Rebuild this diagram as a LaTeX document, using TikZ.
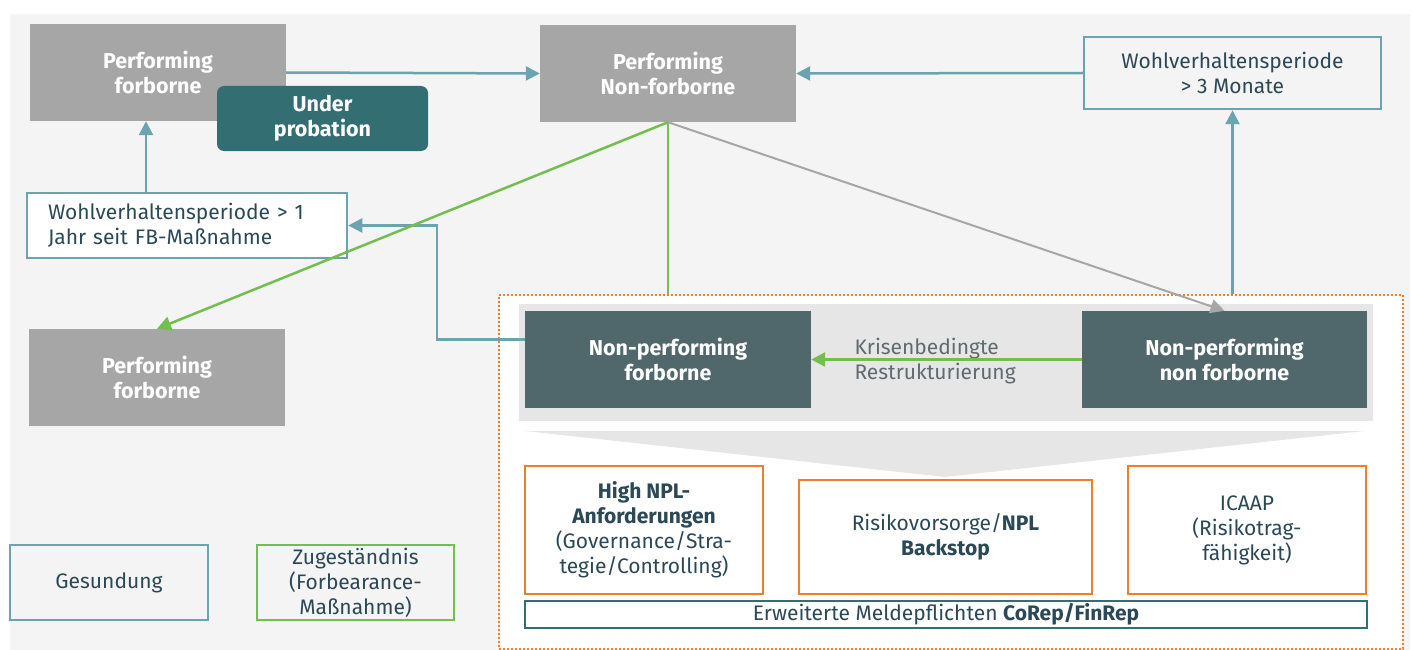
\documentclass[tikz,border=0pt]{standalone}
\usepackage{fontspec}
\setmainfont{Fira Sans}
\usetikzlibrary{arrows.meta}

\definecolor{bggray}{HTML}{F4F4F4}
\definecolor{boxgray}{HTML}{A6A6A6}
\definecolor{npslate}{HTML}{50686C}
\definecolor{probteal}{HTML}{336E73}
\definecolor{lteal}{HTML}{6AA4AF}
\definecolor{lgreen}{HTML}{72BF50}
\definecolor{lorange}{HTML}{F07F2B}
\definecolor{bandgray}{HTML}{E6E6E6}
\definecolor{txtdark}{HTML}{2B4856}
\definecolor{txtmid}{HTML}{5F6B70}

\tikzset{
  txt/.style={font=\fontsize{21}{25}\selectfont, text=txtdark, align=center},
  stategray/.style={fill=boxgray, text=white, align=center, inner sep=0pt,
    font=\fontsize{21.5}{25}\selectfont\bfseries},
  stateslate/.style={stategray, fill=npslate},
  tealbox/.style={txt, draw=lteal, line width=2.5pt, inner sep=0pt},
  greenbox/.style={txt, draw=lgreen, line width=2.5pt, inner sep=0pt},
  orangebox/.style={txt, draw=lorange, fill=white, line width=2.5pt, inner sep=0pt},
  tealarr/.style={draw=lteal, line width=2.5pt, -{Triangle[length=14pt,width=14pt]}},
  greenarr/.style={draw=lgreen, line width=2.5pt, -{Triangle[length=14pt,width=14pt]}},
  grayarr/.style={draw=boxgray, line width=2pt, -{Triangle[length=14pt,width=14pt]}},
}

\begin{document}
\begin{tikzpicture}[x=1pt,y=-1pt]
\useasboundingbox (0,0) rectangle (1413,650);
\fill[bggray] (10,14) rectangle (1410,650);

% NPL frame with the grey band and the funnel
\node[draw=lorange, fill=white, line width=2.5pt, dash pattern=on 2pt off 2pt, minimum width=904pt, minimum height=354pt] (npl) at (951,472) {};
\node[fill=bandgray, minimum width=854pt, minimum height=117pt] (band) at (946,362.5) {};
\fill[bandgray] (525,431) -- (1364,431) -- (945,477) -- cycle;

% states
\node[stategray, minimum width=256pt, minimum height=97pt] (pf) at (158,72.5) {Performing\\forborne};
\node[stategray, fill=probteal, rounded corners=7pt, minimum width=211pt, minimum height=65pt] (prob) at (322.5,118.5) {Under\\probation};
\node[stategray, minimum width=256pt, minimum height=97pt] (pnf) at (668,73.5) {Performing\\Non-forborne};
\node[stategray, minimum width=256pt, minimum height=97pt] (pf2) at (157,377.5) {Performing\\forborne};
\node[stateslate, minimum width=286pt, minimum height=97pt] (npf) at (668,359.5) {Non-performing\\forborne};
\node[stateslate, minimum width=285pt, minimum height=97pt] (npnf) at (1224.5,359.5) {Non-performing\\non forborne};

% conditions
\node[tealbox, fill=bggray, minimum width=297pt, minimum height=72pt] (wv3) at (1232.5,73) {Wohlverhaltensperiode\\> 3 Monate};
\node[tealbox, fill=white, align=left, text width=278pt, inner xsep=21pt, minimum height=65pt] (wv1) at (187,225.5) {Wohlverhaltensperiode > 1\\Jahr seit FB-Maßnahme};
\node[txt, text=txtmid, align=left, anchor=west] (krise) at (851,361) {Krisenbedingte\\Restrukturierung};

% requirements
\node[orangebox, minimum width=238pt, minimum height=128pt] (hnpl) at (644,530) {\textbf{High NPL-}\\\textbf{Anforderungen}\\(Governance/Stra-\\tegie/Controlling)};
\node[orangebox, minimum width=293pt, minimum height=114pt] (risk) at (945.5,537) {Risikovorsorge/\textbf{NPL}\\\textbf{Backstop}};
\node[orangebox, minimum width=238pt, minimum height=128pt] (icaap) at (1247,530) {ICAAP\\(Risikotrag-\\fähigkeit)};
\node[txt, draw=probteal, fill=white, line width=2.5pt, inner sep=0pt, minimum width=842pt, minimum height=27pt] (melde) at (946,614.5) {Erweiterte Meldepflichten \textbf{CoRep/FinRep}};

% legend
\node[tealbox, minimum width=198pt, minimum height=75pt] (leg1) at (109,582.5) {Gesundung};
\node[greenbox, minimum width=197pt, minimum height=75pt] (leg2) at (355.5,582.5) {Zugeständnis\\(Forbearance-\\Maßnahme)};

% transitions
\draw[tealarr] (pf.east) -- (pnf.west);
\draw[tealarr] (wv3.west) -- (pnf.east);
\draw[tealarr] ([xshift=-41pt]wv1.north) -- ([xshift=-12pt]pf.south);
\draw[tealarr] ([yshift=20pt]npf.west) -- ++(-88,0) |- (wv1.east);
\draw[tealarr] (wv3.south |- npl.north) -- (wv3.south);
\draw[greenarr] (pnf.south) -- (pf2.north);
\draw[lgreen, line width=2.5pt] (pnf.south) -- (pnf.south |- npl.north);
\draw[grayarr] (pnf.south) -- (npnf.north);
\draw[greenarr] (npnf.west) -- (npf.east);
\end{tikzpicture}
\end{document}
